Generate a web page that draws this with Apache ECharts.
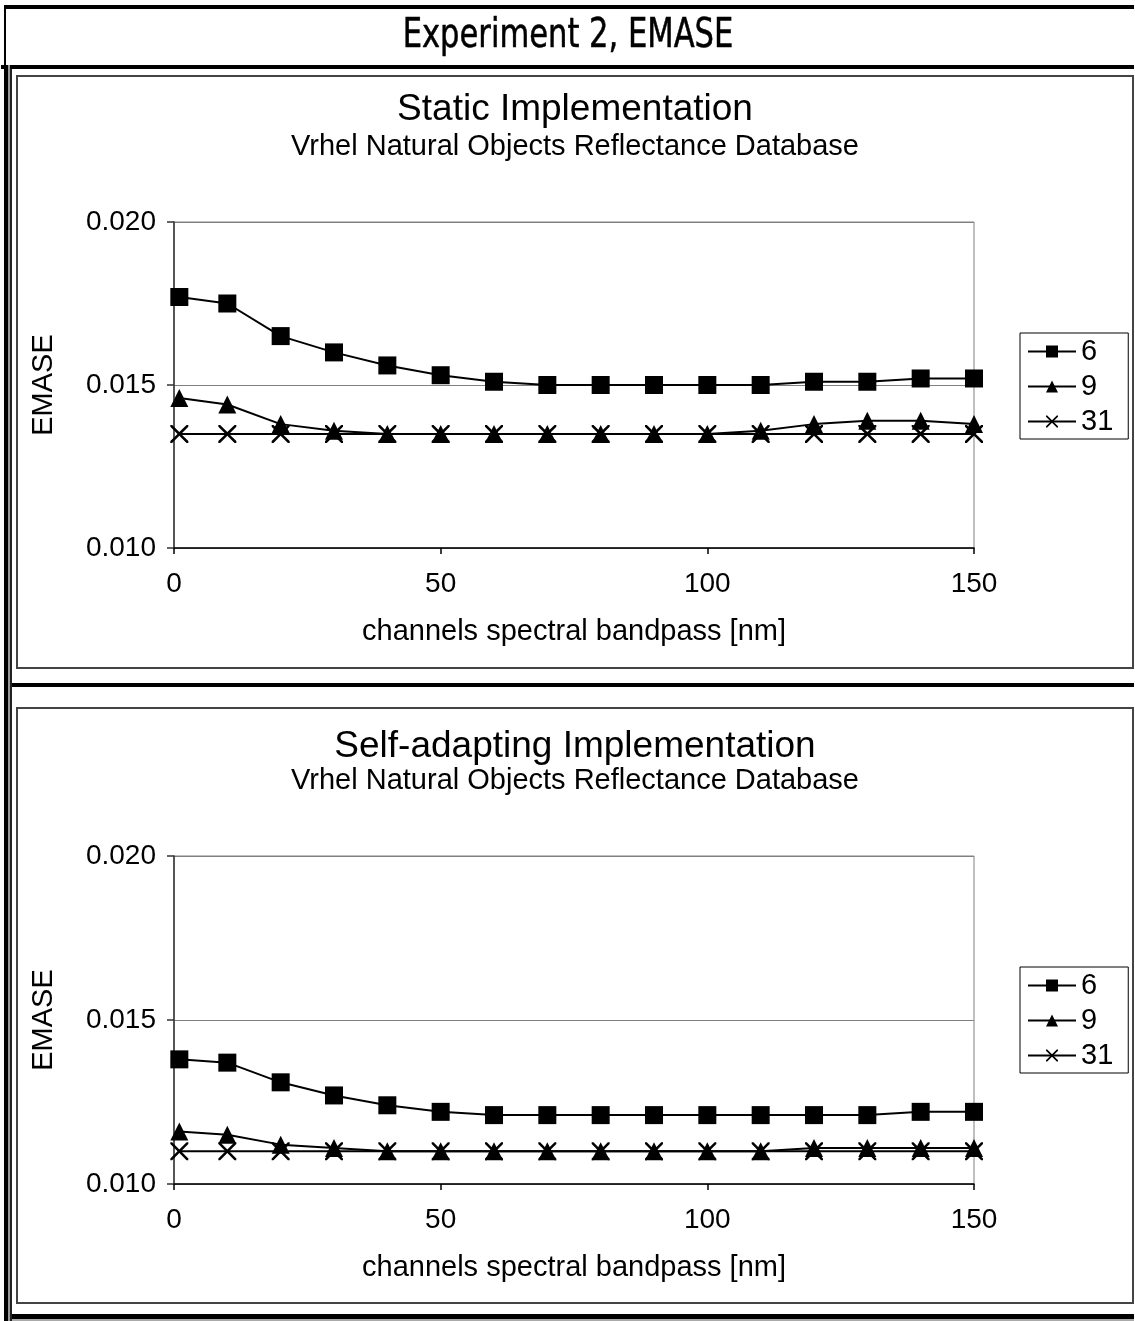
<!DOCTYPE html>
<html>
<head>
<meta charset="utf-8">
<script src="https://cdn.jsdelivr.net/npm/echarts@6/dist/echarts.min.js"></script>
<style>
  html, body { margin: 0; padding: 0; background: #fff; }
  #chart { width: 1135px; height: 1321px; }
</style>
</head>
<body>
<div id="chart"></div>
<script>
// Channel spectral bandpass values [nm] (x axis)
const bandpass = [1, 10, 20, 30, 40, 50, 60, 70, 80, 90, 100, 110, 120, 130, 140, 150];

// Static implementation, EMASE per number of channels
const static6  = [0.0177, 0.0175, 0.0165, 0.0160, 0.0156, 0.0153, 0.0151, 0.0150, 0.0150, 0.0150, 0.0150, 0.0150, 0.0151, 0.0151, 0.0152, 0.0152];
const static9  = [0.0146, 0.0144, 0.0138, 0.0136, 0.0135, 0.0135, 0.0135, 0.0135, 0.0135, 0.0135, 0.0135, 0.0136, 0.0138, 0.0139, 0.0139, 0.0138];
const static31 = [0.0135, 0.0135, 0.0135, 0.0135, 0.0135, 0.0135, 0.0135, 0.0135, 0.0135, 0.0135, 0.0135, 0.0135, 0.0135, 0.0135, 0.0135, 0.0135];

// Self-adapting implementation, EMASE per number of channels
const adapt6  = [0.0138, 0.0137, 0.0131, 0.0127, 0.0124, 0.0122, 0.0121, 0.0121, 0.0121, 0.0121, 0.0121, 0.0121, 0.0121, 0.0121, 0.0122, 0.0122];
const adapt9  = [0.0116, 0.0115, 0.0112, 0.0111, 0.0110, 0.0110, 0.0110, 0.0110, 0.0110, 0.0110, 0.0110, 0.0110, 0.0111, 0.0111, 0.0111, 0.0111];
const adapt31 = [0.0110, 0.0110, 0.0110, 0.0110, 0.0110, 0.0110, 0.0110, 0.0110, 0.0110, 0.0110, 0.0110, 0.0110, 0.0110, 0.0110, 0.0110, 0.0110];

const seriesNames = ['6', '9', '31'];
const pageTitle = 'Experiment 2, EMASE';
const panelTitles = ['Static Implementation', 'Self-adapting Implementation'];
const panelSubtitle = 'Vrhel Natural Objects Reflectance Database';
const xAxisName = 'channels spectral bandpass [nm]';
const yAxisName = 'EMASE';

const FONT = '"Liberation Sans", Arial, sans-serif';
const crossSymbol = 'path://M0,0L2,0L10,8L18,0L20,0L20,2L12,10L20,18L20,20L18,20L10,12L2,20L0,20L0,18L8,10L0,2Z';
const symbols = ['rect', 'triangle', crossSymbol];

const panels = [
  { values: [static6, static9, static31], gridTop: 222, gridHeight: 326, titleTop: 91, titleGap: 4, legendTop: 333 },
  { values: [adapt6, adapt9, adapt31],   gridTop: 856, gridHeight: 328, titleTop: 728, titleGap: 1, legendTop: 967 }
];

const pairs = (xs, ys) => xs.map((x, i) => [x, ys[i]]);

const chart = echarts.init(document.getElementById('chart'), null, { renderer: 'canvas' });

const grids = panels.map(p => ({
  left: 174, width: 800, top: p.gridTop, height: p.gridHeight,
  show: true, borderColor: '#808080', borderWidth: 1, backgroundColor: 'transparent'
}));

const xAxes = panels.map((p, i) => ({
  type: 'value', gridIndex: i, min: 0, max: 150, interval: 50,
  name: xAxisName, nameLocation: 'middle', nameGap: 69,
  nameTextStyle: { fontFamily: FONT, fontSize: 29, color: '#000' },
  axisLine: { show: true, onZero: false, lineStyle: { color: '#000', width: 1.5 } },
  axisTick: { show: true, length: 6, lineStyle: { color: '#000', width: 1.5 } },
  axisLabel: { fontFamily: FONT, fontSize: 28, color: '#000', margin: 22 },
  splitLine: { show: false }
}));

const yAxes = panels.map((p, i) => ({
  type: 'value', gridIndex: i, min: 0.010, max: 0.020, interval: 0.005,
  name: yAxisName, nameLocation: 'middle', nameGap: 116, nameRotate: 90,
  nameTextStyle: { fontFamily: FONT, fontSize: 29, color: '#000' },
  axisLine: { show: true, lineStyle: { color: '#333', width: 1.5 } },
  axisTick: { show: true, length: 7, lineStyle: { color: '#333', width: 1.5 } },
  axisLabel: { fontFamily: FONT, fontSize: 28, color: '#000', margin: 18,
               formatter: v => v.toFixed(3) },
  splitLine: { show: true, lineStyle: { color: '#808080', width: 1 } }
}));

const series = [];
panels.forEach((p, gi) => {
  p.values.forEach((vals, si) => {
    series.push({
      name: seriesNames[si], type: 'line',
      xAxisIndex: gi, yAxisIndex: gi,
      data: pairs(bandpass, vals),
      symbol: symbols[si], symbolSize: 18,
      lineStyle: { color: '#000', width: 2 },
      itemStyle: { color: '#000' },
      z: 3 + si,
      animation: false
    });
  });
});

const titles = panels.map((p, i) => ({
  text: panelTitles[i], subtext: panelSubtitle,
  left: 575, textAlign: 'center', top: p.titleTop, padding: 0, itemGap: p.titleGap,
  textStyle: { fontFamily: FONT, fontSize: 37, fontWeight: 'normal', color: '#000' },
  subtextStyle: { fontFamily: FONT, fontSize: 29, color: '#000' }
}));

const legends = panels.map(p => ({
  orient: 'vertical', left: 1020, top: p.legendTop,
  data: seriesNames,
  itemWidth: 48, itemHeight: 15, itemGap: 6,
  padding: [4, 15, 3, 7],
  borderColor: '#000', borderWidth: 1,
  textStyle: { fontFamily: FONT, fontSize: 29, color: '#000' },
  selectedMode: false
}));

// Page frame: header box, separators and panel boxes
const bar = (x, y, w, h, fill) => ({ type: 'rect', shape: { x, y, width: w, height: h }, style: { fill }, silent: true, z: 100 });
const box = (x, y, w, h) => ({ type: 'rect', shape: { x, y, width: w, height: h }, style: { fill: 'none', stroke: '#444', lineWidth: 2 }, silent: true, z: 100 });
const frame = [
  bar(4, 5, 1130, 4, '#000'),
  bar(4, 5, 2, 62, '#000'),
  bar(1, 65, 1133, 4, '#000'),
  bar(4, 65, 4, 1256, '#000'),
  bar(8, 65, 2, 1256, '#999'),
  bar(10, 69, 2, 1252, '#222'),
  box(17, 76, 1116, 592),
  bar(12, 683, 1122, 4, '#000'),
  box(17, 708, 1116, 595),
  bar(12, 1314, 1122, 5, '#000'),
  bar(12, 1319, 1122, 2, '#aaa'),
  // page heading
  {
    type: 'text', x: 568, y: 37, scaleX: 0.85, z: 100, silent: true,
    style: {
      text: pageTitle, fill: '#000', stroke: '#000', lineWidth: 0.5,
      fontFamily: '"DejaVu Sans Condensed", "DejaVu Sans", sans-serif', fontSize: 40,
      align: 'center', verticalAlign: 'middle'
    }
  }
];

chart.setOption({
  animation: false,
  backgroundColor: '#fff',
  title: titles,
  legend: legends,
  grid: grids,
  xAxis: xAxes,
  yAxis: yAxes,
  series: series,
  graphic: { elements: frame }
});
</script>
</body>
</html>
